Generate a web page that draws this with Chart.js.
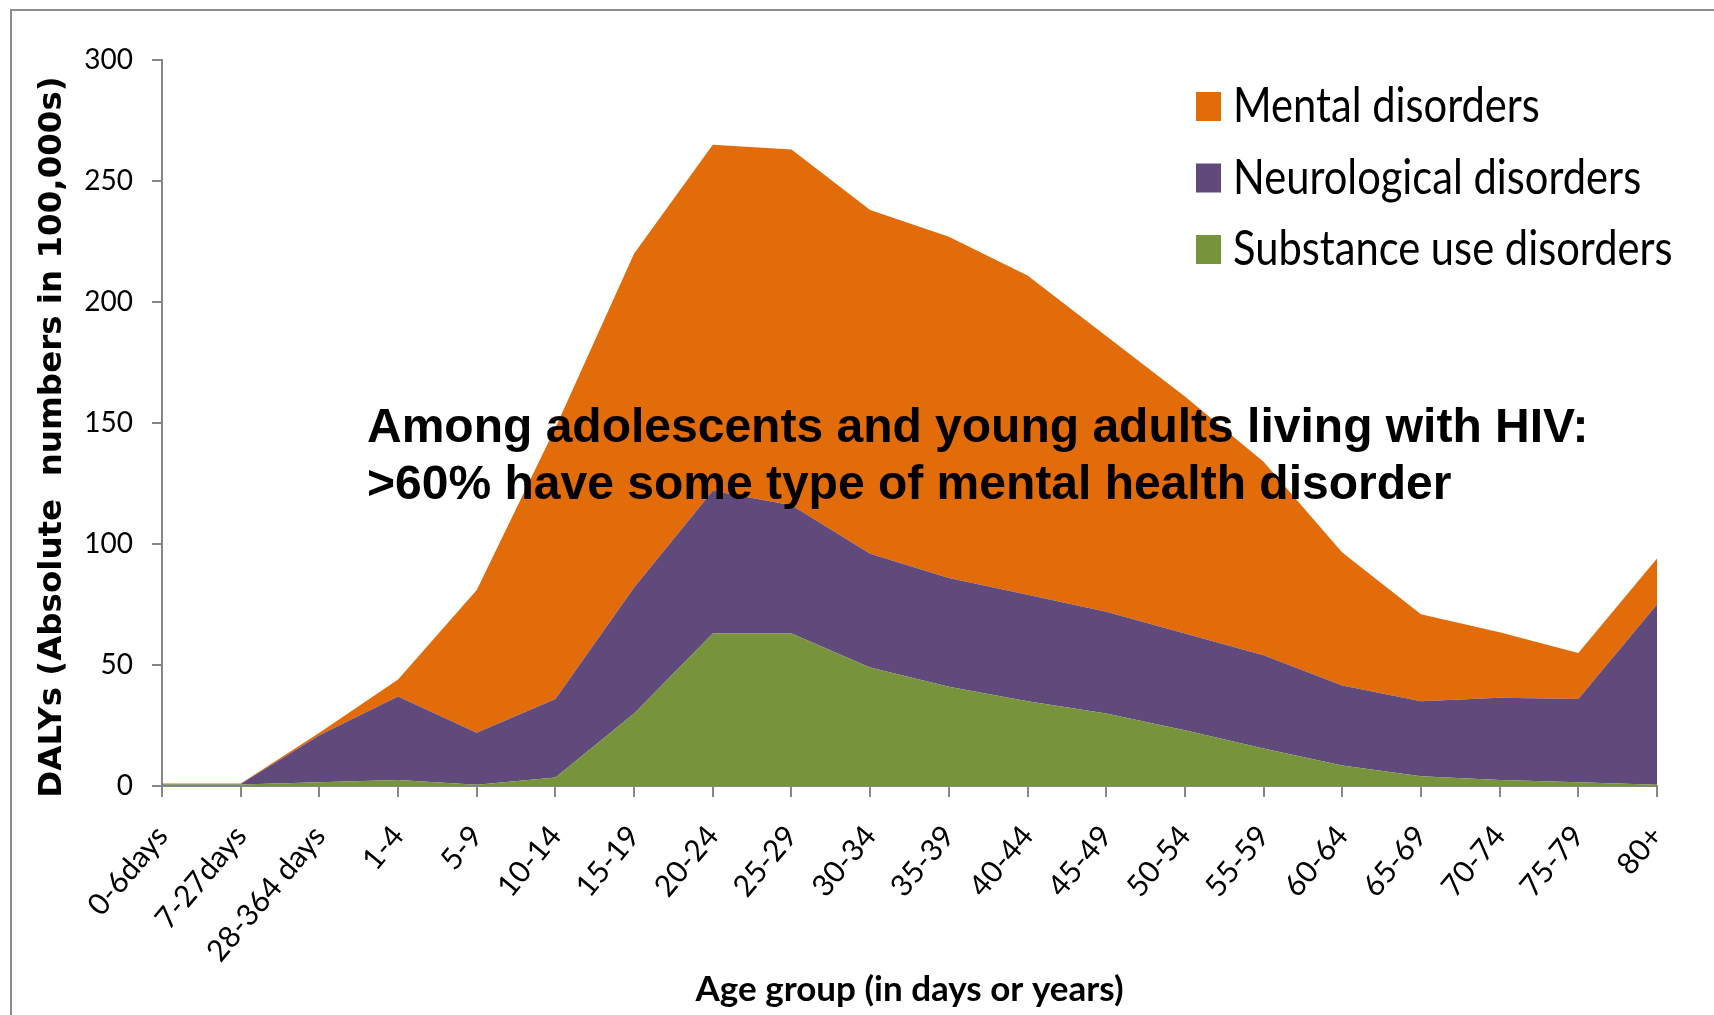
<!DOCTYPE html>
<html lang="en">
<head>
  <meta charset="UTF-8">
  <title>DALYs by age group</title>
  <script src="https://cdn.jsdelivr.net/npm/chart.js"></script>
  <style>
    html, body { margin: 0; padding: 0; background: #fff; }
    .wrap { position: relative; width: 1714px; height: 1015px; overflow: hidden; }
    .frame { position: absolute; left: 10px; top: 9px; width: 1800px; height: 1100px;
             border-left: 2px solid #8c8c8c; border-top: 2px solid #8c8c8c; }
    canvas { position: absolute; left: 0; top: 0; }
  </style>
</head>
<body>
<div class="wrap">
  <div class="frame"></div>
  <canvas id="dalyChart" width="1714" height="1015"></canvas>
</div>
<script>
  // age groups on the x axis
  const ageGroups = ['0-6days', '7-27days', '28-364 days', '1-4', '5-9', '10-14', '15-19', '20-24',
    '25-29', '30-34', '35-39', '40-44', '45-49', '50-54', '55-59', '60-64', '65-69', '70-74', '75-79', '80+'];

  // DALYs (100,000s), stacked from the bottom up
  const substanceUse = [0.6, 0.6, 1.5, 2.5, 0.5, 3.5, 30, 63, 63, 49, 41, 35, 30, 23, 15.5, 8.5, 4, 2.5, 1.5, 0.5];
  const neurological = [0.2, 0.2, 19.5, 34.5, 21.5, 32.5, 52, 59, 53, 47, 45, 44, 42, 40, 38.5, 33, 31, 34, 34.5, 74.5];
  const mental = [0.2, 0.2, 1, 7, 59, 112, 138, 143, 147, 142, 141, 132, 114, 98, 80, 55, 36, 27, 19, 19];

  const seriesNames = ['Substance use disorders', 'Neurological disorders', 'Mental disorders'];
  const seriesColors = ['#77933C', '#604A7B', '#E36C0A'];

  const yTicks = [0, 50, 100, 150, 200, 250, 300];
  const yTitle = 'DALYs (Absolute  numbers in 100,000s)';

  const noteLines = ['Among adolescents and young adults living with HIV:',
    '>60% have some type of mental health disorder'];

  const FONT = 'Lato, "Open Sans", sans-serif';
  Chart.defaults.font.family = FONT;
  Chart.defaults.color = '#000';

  // annotation text on top of the areas + rotated y title
  const notePlugin = {
    id: 'note',
    afterDatasetsDraw(chart) {
      const ctx = chart.ctx;
      ctx.save();
      ctx.font = 'bold 48px "Liberation Sans", Arial, sans-serif';
      ctx.fillStyle = '#000';
      ctx.textBaseline = 'alphabetic';
      noteLines.forEach((line, i) => ctx.fillText(line, 367, 442 + i * 57));
      ctx.restore();

      const area = chart.chartArea;
      ctx.save();
      ctx.translate(53, (area.top + area.bottom) / 2 + 14);
      ctx.rotate(-Math.PI / 2);
      ctx.font = 'bold 32.5px "DejaVu Sans", Verdana, sans-serif';
      ctx.fillStyle = '#000';
      ctx.textAlign = 'center';
      ctx.textBaseline = 'middle';
      ctx.fillText(yTitle, 0, 0);
      ctx.restore();
    }
  };

  // legend inside the plot, top right, in reverse stacking order
  const legendPlugin = {
    id: 'insideLegend',
    afterDraw(chart) {
      const ctx = chart.ctx;
      const items = chart.data.datasets.slice().reverse();
      items.forEach((ds, i) => {
        const y = 106 + i * 71.5;
        ctx.save();
        ctx.fillStyle = ds.backgroundColor;
        ctx.fillRect(1196, y - 14, 25, 29);
        ctx.fillStyle = '#000';
        ctx.font = '48px ' + FONT;
        ctx.textBaseline = 'middle';
        ctx.translate(1233, y + 1);
        ctx.scale(0.868, 1);
        ctx.fillText(ds.label, 0, 0);
        ctx.restore();
      });
    }
  };

  const seriesData = [substanceUse, neurological, mental];

  new Chart(document.getElementById('dalyChart').getContext('2d'), {
    type: 'line',
    data: {
      labels: ageGroups,
      datasets: seriesData.map((d, i) => ({
        label: seriesNames[i],
        data: d,
        backgroundColor: seriesColors[i],
        borderColor: seriesColors[i],
        borderWidth: 0,
        pointRadius: 0,
        tension: 0,
        fill: i === 0 ? 'origin' : '-1'
      }))
    },
    options: {
      responsive: false,
      animation: false,
      layout: { padding: { top: 60, right: 57, left: 0, bottom: 0 } },
      plugins: {
        legend: { display: false },
        tooltip: { enabled: false }
      },
      scales: {
        x: {
          offset: false,
          grid: { display: true, drawOnChartArea: false, drawTicks: true, tickLength: 11, color: '#868686', lineWidth: 2 },
          border: { color: '#868686', width: 2 },
          ticks: { font: { size: 30 }, color: '#000', minRotation: 50, maxRotation: 50, padding: 22, autoSkip: false },
          title: { display: true, text: 'Age group (in days or years)', font: { size: 35, weight: 'bold' }, color: '#000', padding: { top: 0, bottom: 4 } },
          afterFit(scale) { scale.height = 229; }
        },
        y: {
          stacked: true,
          min: 0,
          max: 300,
          afterBuildTicks(scale) { scale.ticks = yTicks.map(v => ({ value: v })); },
          grid: { display: true, drawOnChartArea: false, drawTicks: true, tickLength: 10, color: '#868686', lineWidth: 2 },
          border: { color: '#868686', width: 2 },
          ticks: { font: { size: 28 }, color: '#000', padding: 19 },
          title: { display: false },
          afterFit(scale) { scale.width = 162; }
        }
      }
    },
    plugins: [notePlugin, legendPlugin]
  });
</script>
</body>
</html>
